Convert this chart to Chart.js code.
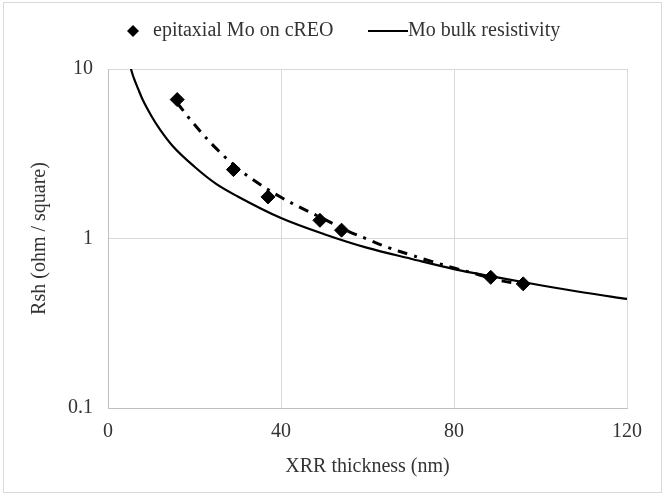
<!DOCTYPE html>
<html>
<head>
<meta charset="utf-8">
<script src="https://cdn.jsdelivr.net/npm/chart.js@4.4.0/dist/chart.umd.min.js"></script>
<style>
  html, body { margin: 0; padding: 0; background: #fff; }
</style>
</head>
<body>
<canvas id="chart" width="665" height="496"></canvas>
<script>
// measured points (thickness nm, Rsh ohm/sq)
const epiThickness = [16, 29, 37, 49, 54, 88.5, 96];
const epiRsh = [6.6, 2.55, 1.76, 1.28, 1.12, 0.59, 0.54];

const trendThickness = [16, 20, 25, 30, 35, 40, 45, 50, 55, 60, 65, 70, 75, 80, 85, 90, 95];
const trendRsh = [6.3, 4.7, 3.4, 2.6, 2.1, 1.75, 1.5, 1.3, 1.12, 0.99, 0.88, 0.8, 0.73, 0.67, 0.62, 0.57, 0.54];

// bulk resistivity curve
const bulkThickness = [5.3, 6, 7, 8, 10, 12, 15, 20, 25, 30, 40, 50, 60, 70, 80, 90, 100, 110, 120];
const bulkRsh = [10, 8.8, 7.6, 6.6, 5.3, 4.4, 3.5, 2.65, 2.1, 1.77, 1.32, 1.06, 0.88, 0.76, 0.66, 0.59, 0.53, 0.48, 0.44];

const xTicks = [0, 40, 80, 120];
const yTicks = [0.1, 1, 10];

const legendLabels = ['epitaxial Mo on cREO', 'Mo bulk resistivity'];

function toPoints(xs, ys) {
  return xs.map((x, i) => ({ x: x, y: ys[i] }));
}

const serif = "'Liberation Serif', 'Times New Roman', serif";
const textColor = '#333333';
const fontSize = 20;

// frame around the whole picture + legend drawn like the Excel one
const decorPlugin = {
  id: 'decor',
  beforeDraw(chart) {
    const ctx = chart.ctx;
    ctx.save();
    ctx.fillStyle = '#fff';
    ctx.fillRect(0, 0, chart.width, chart.height);
    ctx.strokeStyle = '#d9d9d9';
    ctx.lineWidth = 1;
    ctx.strokeRect(3.5, 2.5, 658, 490);
    ctx.restore();
  },
  afterDraw(chart) {
    const ctx = chart.ctx;
    const y = 31;
    ctx.save();
    ctx.fillStyle = '#000';
    // diamond marker
    ctx.beginPath();
    ctx.moveTo(133, y - 6);
    ctx.lineTo(139, y);
    ctx.lineTo(133, y + 6);
    ctx.lineTo(127, y);
    ctx.closePath();
    ctx.fill();
    ctx.font = fontSize + 'px ' + serif;
    ctx.textBaseline = 'middle';
    ctx.fillStyle = textColor;
    ctx.fillText(legendLabels[0], 153, y);
    // line sample
    ctx.strokeStyle = '#000';
    ctx.lineWidth = 2;
    ctx.beginPath();
    ctx.moveTo(368, y);
    ctx.lineTo(408, y);
    ctx.stroke();
    ctx.fillText(legendLabels[1], 408, y);
    ctx.restore();
  }
};

new Chart(document.getElementById('chart'), {
  type: 'scatter',
  data: {
    datasets: [
      {
        label: legendLabels[0],
        data: toPoints(epiThickness, epiRsh),
        pointStyle: 'rectRot',
        pointRadius: 7,
        backgroundColor: '#000',
        borderColor: '#000',
        borderWidth: 1,
        showLine: false
      },
      {
        label: 'trend',
        data: toPoints(trendThickness, trendRsh),
        showLine: true,
        pointRadius: 0,
        borderColor: '#000',
        borderWidth: 3,
        borderDash: [10, 7, 3, 7],
        tension: 0.4
      },
      {
        label: legendLabels[1],
        data: toPoints(bulkThickness, bulkRsh),
        showLine: true,
        pointRadius: 0,
        borderColor: '#000',
        borderWidth: 2.2,
        cubicInterpolationMode: 'monotone'
      }
    ]
  },
  options: {
    responsive: false,
    animation: false,
    devicePixelRatio: 1,
    layout: { padding: { top: 69, right: 38, left: 0, bottom: 0 } },
    plugins: {
      legend: { display: false },
      tooltip: { enabled: false }
    },
    scales: {
      x: {
        type: 'linear',
        min: 0,
        max: 120,
        afterBuildTicks(scale) { scale.ticks = xTicks.map(v => ({ value: v })); },
        afterFit(scale) { scale.height = 88; },
        grid: { color: '#d9d9d9', drawTicks: false },
        border: { color: '#bfbfbf' },
        ticks: {
          padding: 12,
          color: textColor,
          font: { family: serif, size: fontSize },
          autoSkip: false,
          maxRotation: 0
        },
        title: {
          display: true,
          text: 'XRR thickness (nm)',
          color: textColor,
          font: { family: serif, size: fontSize },
          padding: { top: 0, bottom: 17 }
        }
      },
      y: {
        type: 'logarithmic',
        min: 0.1,
        max: 10,
        afterBuildTicks(scale) { scale.ticks = yTicks.map(v => ({ value: v })); },
        afterFit(scale) { scale.width = 108; },
        grid: { color: '#d9d9d9', drawTicks: false },
        border: { color: '#bfbfbf' },
        ticks: {
          padding: 15,
          color: textColor,
          font: { family: serif, size: fontSize },
          callback: v => String(v)
        },
        title: {
          display: true,
          text: 'Rsh (ohm / square)',
          color: textColor,
          font: { family: serif, size: fontSize },
          padding: { top: 28, bottom: 0 }
        }
      }
    }
  },
  plugins: [decorPlugin]
});
</script>
</body>
</html>
